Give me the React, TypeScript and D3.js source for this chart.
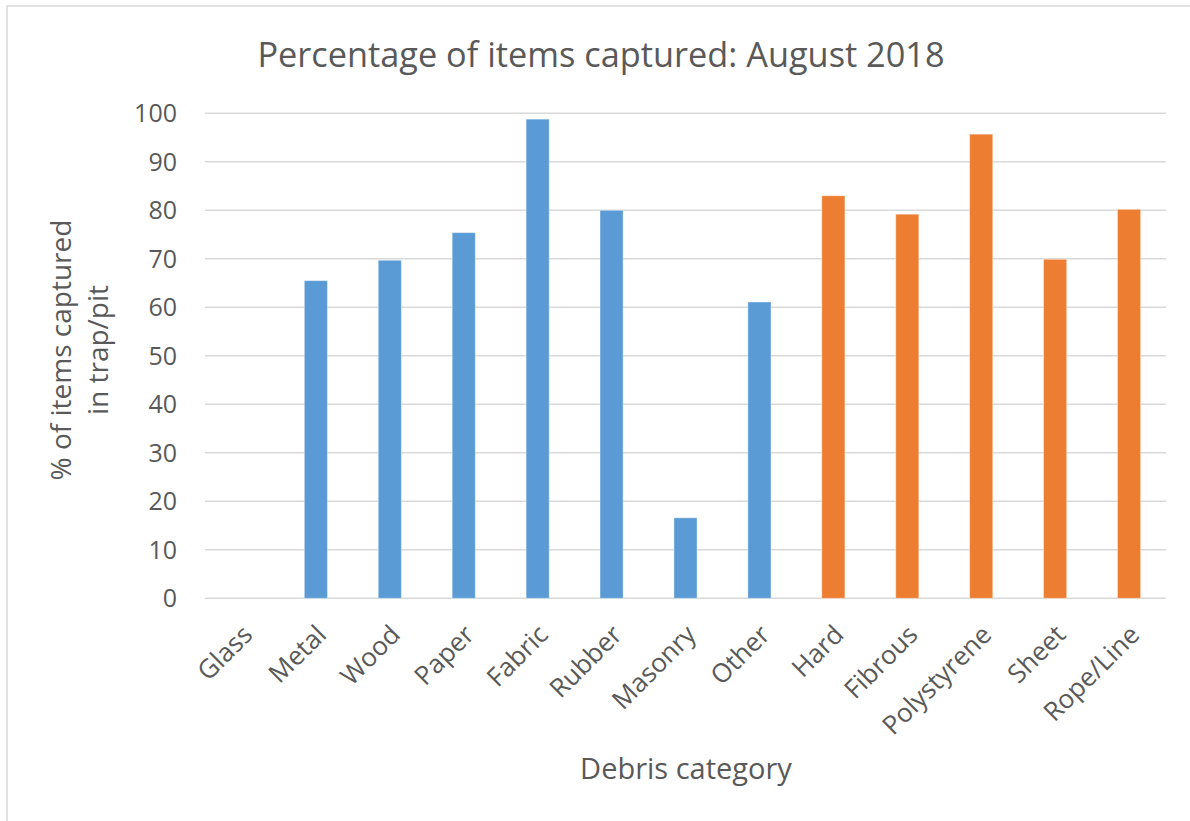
import React from "react";
import * as d3 from "d3";

const categories = ["Glass", "Metal", "Wood", "Paper", "Fabric", "Rubber", "Masonry", "Other", "Hard", "Fibrous", "Polystyrene", "Sheet", "Rope/Line"];
const values = [0, 65.5, 69.7, 75.4, 98.8, 80.0, 16.6, 61.1, 83.0, 79.2, 95.7, 69.9, 80.2];
const groups = ["general", "general", "general", "general", "general", "general", "general", "general", "plastic", "plastic", "plastic", "plastic", "plastic"];
const yTicks = [0, 10, 20, 30, 40, 50, 60, 70, 80, 90, 100];

const W = 1190;
const H = 821;
const plot = { left: 205, right: 1166, top: 113.3, bottom: 598.3 };
const font = "'Open Sans', 'DejaVu Sans', sans-serif";
const textColor = "#595959";

export default function App() {
  const x = d3.scaleBand<string>().domain(categories).range([plot.left, plot.right]).paddingInner(0.687).paddingOuter(0.3435);
  const y = d3.scaleLinear().domain([0, 100]).range([plot.bottom, plot.top]);
  const color = d3.scaleOrdinal<string, string>().domain(["general", "plastic"]).range(["#5B9BD5", "#ED7D31"]);

  return (
    <svg width={W} height={H} style={{ position: "absolute", left: 0, top: 0, background: "#fff" }} fontFamily={font}>
      <rect x={0} y={0} width={W} height={H} fill="#fff" />
      <line x1={7} x2={7} y1={5.5} y2={H} stroke="#D9D9D9" strokeWidth={1.5} />
      <line x1={7} x2={W} y1={6} y2={6} stroke="#D9D9D9" strokeWidth={1.5} />
      <text x={601} y={67} textAnchor="middle" fontSize={34.3} fill={textColor}>
        Percentage of items captured: August 2018
      </text>
      {yTicks.map((t) => (
        <g key={t}>
          <line x1={plot.left} x2={plot.right} y1={y(t)} y2={y(t)} stroke="#D9D9D9" strokeWidth={1.5} />
          <text x={177} y={y(t) + 9} textAnchor="end" fontSize={25} fill={textColor}>
            {t}
          </text>
        </g>
      ))}
      {categories.map((c, i) => (
        <rect
          key={c}
          x={x(c)}
          y={y(values[i])}
          width={x.bandwidth()}
          height={y(0) - y(values[i])}
          fill={color(groups[i])}
          stroke="#fff"
          strokeOpacity={0.4}
          strokeWidth={1}
          opacity={values[i] > 0 ? 1 : 0}
        />
      ))}
      {categories.map((c) => {
        const cx = (x(c) as number) + x.bandwidth() / 2;
        const ax = cx + 12;
        const ay = plot.bottom + 38;
        return (
          <text key={c} x={ax} y={ay} textAnchor="end" fontSize={26} fill={textColor} transform={`rotate(-45 ${ax} ${ay})`}>
            {c}
          </text>
        );
      })}
      <text x={686} y={779} textAnchor="middle" fontSize={29} fill={textColor}>
        Debris category
      </text>
      <text transform="translate(71 350) rotate(-90)" textAnchor="middle" fontSize={28} fill={textColor}>
        % of items captured
      </text>
      <text transform="translate(108 350) rotate(-90)" textAnchor="middle" fontSize={28} fill={textColor}>
        in trap/pit
      </text>
    </svg>
  );
}
